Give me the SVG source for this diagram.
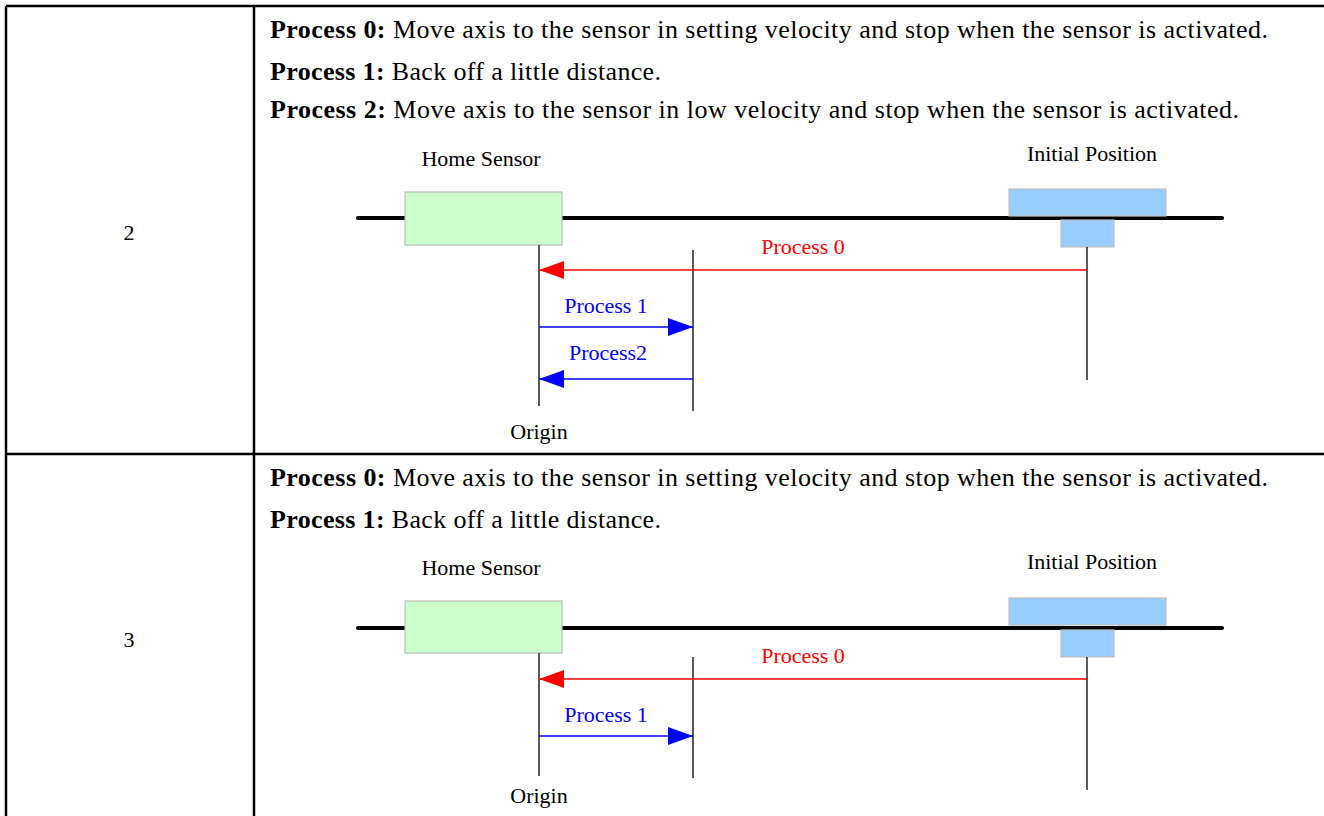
<svg xmlns="http://www.w3.org/2000/svg" width="1324" height="816" viewBox="0 0 1324 816">
  <style>
    .grid { stroke: #000; stroke-width: 2.5; fill: none; }
    .txt { font-family: "Liberation Serif", "Times New Roman", serif; fill: #000; }
    .head { font-size: 26px; }
    .lbl { font-size: 22px; }
    .num { font-size: 22px; text-anchor: middle; }
    .axis { stroke: #000; stroke-width: 4; stroke-linecap: round; }
    .tick { stroke: #000; stroke-width: 1.3; }
    .sensor { fill: #ccffcc; stroke: #bbbbbb; stroke-width: 1.2; }
    .carriage { fill: #99ccff; stroke: #c0c0c0; stroke-width: 1.2; }
    .red { stroke: #ff0000; stroke-width: 1.3; fill: none; }
    .blue { stroke: #0000ff; stroke-width: 1.3; fill: none; }
  </style>
  <defs>
    <marker id="ahRed" viewBox="0 0 25 18" refX="25" refY="9" markerWidth="25" markerHeight="18" markerUnits="userSpaceOnUse" orient="auto">
      <path d="M0,0 L25,9 L0,18 Z" fill="#ff0000"/>
    </marker>
    <marker id="ahBlue" viewBox="0 0 25 18" refX="25" refY="9" markerWidth="25" markerHeight="18" markerUnits="userSpaceOnUse" orient="auto">
      <path d="M0,0 L25,9 L0,18 Z" fill="#0000ff"/>
    </marker>
  </defs>

  <!-- table grid -->
  <g id="table">
    <line class="grid" x1="6" y1="6" x2="1324" y2="6"/>
    <line class="grid" x1="6" y1="6" x2="6" y2="816"/>
    <line class="grid" x1="254" y1="6" x2="254" y2="816"/>
    <line class="grid" x1="6" y1="454" x2="1324" y2="454"/>
    <text class="txt num" x="129" y="240">2</text>
    <text class="txt num" x="129" y="647">3</text>
  </g>

  <!-- row 2 description -->
  <g id="row2-text" class="txt head">
    <text x="270" y="38" textLength="998" lengthAdjust="spacing"><tspan font-weight="bold">Process 0:</tspan> Move axis to the sensor in setting velocity and stop when the sensor is activated.</text>
    <text x="270" y="80" textLength="391" lengthAdjust="spacing"><tspan font-weight="bold">Process 1:</tspan> Back off a little distance.</text>
    <text x="270" y="118" textLength="969" lengthAdjust="spacing"><tspan font-weight="bold">Process 2:</tspan> Move axis to the sensor in low velocity and stop when the sensor is activated.</text>
  </g>

  <!-- row 2 diagram -->
  <g id="row2-axis">
    <line class="axis" x1="358" y1="218" x2="1222" y2="218"/>
  </g>
  <g id="row2-home-sensor">
    <rect class="sensor" x="405" y="192" width="157" height="53"/>
    <text class="txt lbl" x="481" y="166" text-anchor="middle">Home Sensor</text>
  </g>
  <g id="row2-initial-position">
    <rect class="carriage" x="1009" y="189" width="157" height="27"/>
    <rect class="carriage" x="1061" y="220" width="53" height="27"/>
    <text class="txt lbl" x="1092" y="161" text-anchor="middle">Initial Position</text>
  </g>
  <g id="row2-origin">
    <text class="txt lbl" x="539" y="439" text-anchor="middle">Origin</text>
  </g>
  <g id="row2-connectors">
    <line class="tick" x1="539" y1="245" x2="539" y2="406"/>
    <line class="tick" x1="693" y1="250" x2="693" y2="411"/>
    <line class="tick" x1="1087" y1="247" x2="1087" y2="380"/>
    <line class="red" x1="1087" y1="270" x2="539" y2="270" marker-end="url(#ahRed)"/>
    <text class="txt lbl" x="803" y="254" text-anchor="middle" style="fill:#ff0000">Process 0</text>
    <line class="blue" x1="539" y1="327" x2="693" y2="327" marker-end="url(#ahBlue)"/>
    <text class="txt lbl" x="606" y="313" text-anchor="middle" style="fill:#0000ff">Process 1</text>
    <line class="blue" x1="693" y1="379" x2="539" y2="379" marker-end="url(#ahBlue)"/>
    <text class="txt lbl" x="608" y="360" text-anchor="middle" style="fill:#0000ff">Process2</text>
  </g>

  <!-- row 3 description -->
  <g id="row3-text" class="txt head">
    <text x="270" y="486" textLength="998" lengthAdjust="spacing"><tspan font-weight="bold">Process 0:</tspan> Move axis to the sensor in setting velocity and stop when the sensor is activated.</text>
    <text x="270" y="528" textLength="391" lengthAdjust="spacing"><tspan font-weight="bold">Process 1:</tspan> Back off a little distance.</text>
  </g>

  <!-- row 3 diagram -->
  <g id="row3-axis">
    <line class="axis" x1="358" y1="628" x2="1222" y2="628"/>
  </g>
  <g id="row3-home-sensor">
    <rect class="sensor" x="405" y="601" width="157" height="52"/>
    <text class="txt lbl" x="481" y="575" text-anchor="middle">Home Sensor</text>
  </g>
  <g id="row3-initial-position">
    <rect class="carriage" x="1009" y="598" width="157" height="27"/>
    <rect class="carriage" x="1061" y="630" width="53" height="27"/>
    <text class="txt lbl" x="1092" y="569" text-anchor="middle">Initial Position</text>
  </g>
  <g id="row3-origin">
    <text class="txt lbl" x="539" y="803" text-anchor="middle">Origin</text>
  </g>
  <g id="row3-connectors">
    <line class="tick" x1="539" y1="653" x2="539" y2="776"/>
    <line class="tick" x1="693" y1="657" x2="693" y2="778"/>
    <line class="tick" x1="1087" y1="657" x2="1087" y2="790"/>
    <line class="red" x1="1087" y1="679" x2="539" y2="679" marker-end="url(#ahRed)"/>
    <text class="txt lbl" x="803" y="663" text-anchor="middle" style="fill:#ff0000">Process 0</text>
    <line class="blue" x1="539" y1="736" x2="693" y2="736" marker-end="url(#ahBlue)"/>
    <text class="txt lbl" x="606" y="722" text-anchor="middle" style="fill:#0000ff">Process 1</text>
  </g>
</svg>
